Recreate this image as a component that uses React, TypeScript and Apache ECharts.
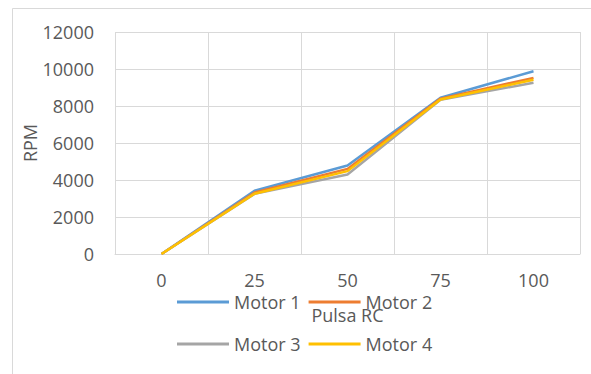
import React, { useEffect, useRef } from "react";
import * as echarts from "echarts";

const categories = ["0", "25", "50", "75", "100"];
const motor1 = [0, 3420, 4780, 8450, 9880];
const motor2 = [0, 3320, 4600, 8400, 9520];
const motor3 = [0, 3250, 4300, 8330, 9260];
const motor4 = [0, 3260, 4480, 8350, 9420];
const seriesNames = ["Motor 1", "Motor 2", "Motor 3", "Motor 4"];
const seriesColors = ["#5B9BD5", "#ED7D31", "#A5A5A5", "#FFC000"];
const yTicks = { min: 0, max: 12000, interval: 2000 };

export default function App() {
  const ref = useRef<HTMLDivElement>(null);
  useEffect(() => {
    if (!ref.current) return;
    const chart = echarts.init(ref.current, undefined, { renderer: "svg" });
    const font = "'Open Sans', 'Liberation Sans', sans-serif";
    const textColor = "#595959";
    const gridColor = "#d9d9d9";
    const data = [motor1, motor2, motor3, motor4];
    const legendBase = {
      left: 177,
      padding: 0,
      icon: "rect",
      itemWidth: 52,
      itemHeight: 3,
      itemGap: 8,
      textStyle: { fontSize: 18, color: textColor, fontFamily: font },
    };
    chart.setOption({
      animation: false,
      backgroundColor: "#ffffff",
      textStyle: { fontFamily: font },
      graphic: [
        {
          type: "rect",
          shape: { x: 12.5, y: 8.5, width: 600, height: 400 },
          style: { fill: "none", stroke: gridColor, lineWidth: 1 },
          silent: true,
        },
      ],
      grid: { left: 115, right: 11, top: 32, bottom: 120 },
      legend: [
        { ...legendBase, data: [seriesNames[0], seriesNames[1]], top: 293 },
        { ...legendBase, data: [seriesNames[2], seriesNames[3]], top: 335 },
      ],
      xAxis: {
        type: "category",
        data: categories,
        boundaryGap: true,
        name: "Pulsa RC",
        nameLocation: "middle",
        nameGap: 52,
        nameMoveOverlap: false,
        nameTextStyle: { fontSize: 18, color: textColor, fontFamily: font },
        axisLine: { show: true, lineStyle: { color: gridColor, width: 1 } },
        axisTick: { show: false },
        splitLine: { show: true, lineStyle: { color: gridColor, width: 1 } },
        axisLabel: { fontSize: 18, color: textColor, margin: 17, fontFamily: font },
      },
      yAxis: {
        type: "value",
        min: yTicks.min,
        max: yTicks.max,
        interval: yTicks.interval,
        name: "RPM",
        nameLocation: "middle",
        nameGap: 76,
        nameMoveOverlap: false,
        nameRotate: 90,
        nameTextStyle: { fontSize: 18, color: textColor, fontFamily: font },
        axisLine: { show: false },
        axisTick: { show: false },
        splitLine: { show: true, lineStyle: { color: gridColor, width: 1 } },
        axisLabel: {
          fontSize: 18,
          color: textColor,
          margin: 21,
          fontFamily: font,
          formatter: (v: number) => String(v),
        },
      },
      series: seriesNames.map((name, i) => ({
        name,
        type: "line",
        data: data[i],
        color: seriesColors[i],
        showSymbol: false,
        symbol: "none",
        lineStyle: { width: 2.5, color: seriesColors[i] },
      })),
    });
    return () => chart.dispose();
  }, []);
  return (
    <div
      ref={ref}
      style={{ position: "fixed", left: 0, top: 0, width: 591, height: 374 }}
    />
  );
}
